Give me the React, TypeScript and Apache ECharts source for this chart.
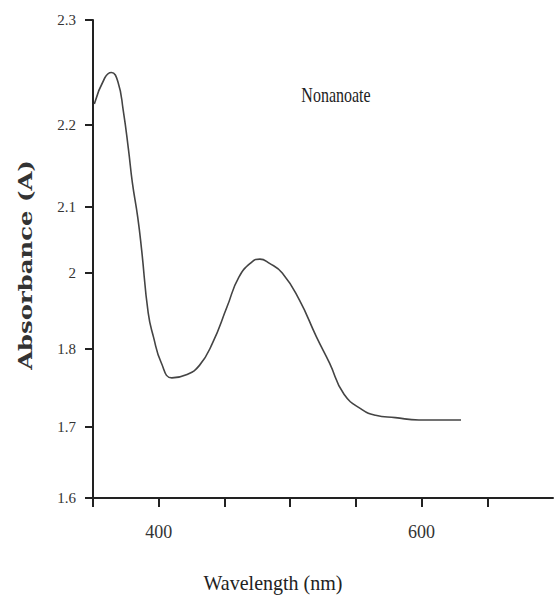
import React, { useEffect, useRef } from "react";
import * as echarts from "echarts";

// Spectrum (wavelength in nm, absorbance in A)
const wavelength = [351, 359, 364, 369, 373, 377, 380, 384, 387, 392, 396, 402, 410, 421, 431, 441, 452, 461, 471, 477, 484, 494, 507, 520, 530, 541, 555, 565, 580, 598, 630];
const absorbance = [2.22, 2.245, 2.25, 2.241, 2.214, 2.17, 2.129, 2.085, 2.035, 1.895, 1.832, 1.782, 1.763, 1.767, 1.779, 1.816, 1.911, 1.989, 2.017, 2.021, 2.015, 2.0, 1.929, 1.832, 1.782, 1.742, 1.722, 1.715, 1.712, 1.709, 1.709];

// Y-axis tick values and labels as printed on the (non-uniform) original axis
const yTickValues = [1.6, 1.7, 1.8, 2.0, 2.1, 2.2, 2.3];
const yTickLabels = ["1.6", "1.7", "1.8", "2", "2.1", "2.2", "2.3"];
// Relative position of each tick along the original axis (0 = bottom, 478 = top)
const yTickScale = [0, 71, 149, 225, 291, 373, 478];

const xLabelValues = [400, 600];
const xTickValues = [350, 400, 450, 500, 550, 600, 650];

function toAxis(v: number): number {
  for (let i = 0; i < yTickValues.length - 1; i++) {
    const a = yTickValues[i], b = yTickValues[i + 1];
    if (v >= a && v <= b) {
      return yTickScale[i] + ((v - a) / (b - a)) * (yTickScale[i + 1] - yTickScale[i]);
    }
  }
  return v < yTickValues[0] ? 0 : yTickScale[yTickScale.length - 1];
}

export default function App() {
  const ref = useRef<HTMLDivElement>(null);
  useEffect(() => {
    if (!ref.current) return;
    const chart = echarts.init(ref.current, null, { renderer: "svg" });
    const serif = "Liberation Serif";
    chart.setOption({
      animation: false,
      backgroundColor: "#ffffff",
      grid: { left: 93, right: 2, top: 20, bottom: 99 },
      xAxis: {
        type: "value",
        min: 350,
        max: 700,
        interval: 50,
        axisLine: { show: true, lineStyle: { color: "#222", width: 2 } },
        axisTick: { show: true, length: 9, customValues: xTickValues, lineStyle: { color: "#222", width: 2 } },
        axisLabel: {
          customValues: xLabelValues,
          margin: 25,
          fontFamily: serif,
          fontSize: 18,
          color: "#333",
        },
        splitLine: { show: false },
      },
      yAxis: {
        type: "value",
        min: 0,
        max: yTickScale[yTickScale.length - 1],
        axisLine: { show: true, lineStyle: { color: "#222", width: 2 } },
        axisTick: { show: true, length: 8, customValues: yTickScale, lineStyle: { color: "#222", width: 2 } },
        axisLabel: {
          customValues: yTickScale,
          margin: 17,
          fontFamily: serif,
          fontSize: 15,
          color: "#333",
          formatter: (val: number) => {
            let best = 0;
            for (let i = 0; i < yTickScale.length; i++) {
              if (Math.abs(yTickScale[i] - val) < Math.abs(yTickScale[best] - val)) best = i;
            }
            return yTickLabels[best];
          },
        },
        splitLine: { show: false },
      },
      graphic: [
        {
          type: "text",
          x: 336,
          y: 95,
          scaleY: 1.3,
          style: {
            text: "Nonanoate",
            fontFamily: serif,
            fontSize: 16,
            fill: "#222",
            textAlign: "center",
            textVerticalAlign: "middle",
          },
        },
        {
          type: "text",
          x: 273,
          y: 583,
          scaleY: 1.1,
          style: {
            text: "Wavelength (nm)",
            fontFamily: serif,
            fontSize: 20,
            fill: "#222",
            textAlign: "center",
            textVerticalAlign: "middle",
          },
        },
        {
          type: "text",
          x: 25,
          y: 265,
          rotation: Math.PI / 2,
          scaleX: 1.28,
          style: {
            text: "Absorbance (A)",
            fontFamily: "DejaVu Serif",
            fontWeight: "bold",
            fontSize: 19,
            fill: "#333",
            textAlign: "center",
            textVerticalAlign: "middle",
          },
        },
      ],
      series: [
        {
          type: "line",
          data: wavelength.map((w, i) => [w, toAxis(absorbance[i])]),
          showSymbol: false,
          smooth: 0.5,
          lineStyle: { color: "#444", width: 1.6 },
        },
      ],
    });
    return () => chart.dispose();
  }, []);
  return <div ref={ref} style={{ position: "fixed", left: 0, top: 0, width: 555, height: 597 }} />;
}
